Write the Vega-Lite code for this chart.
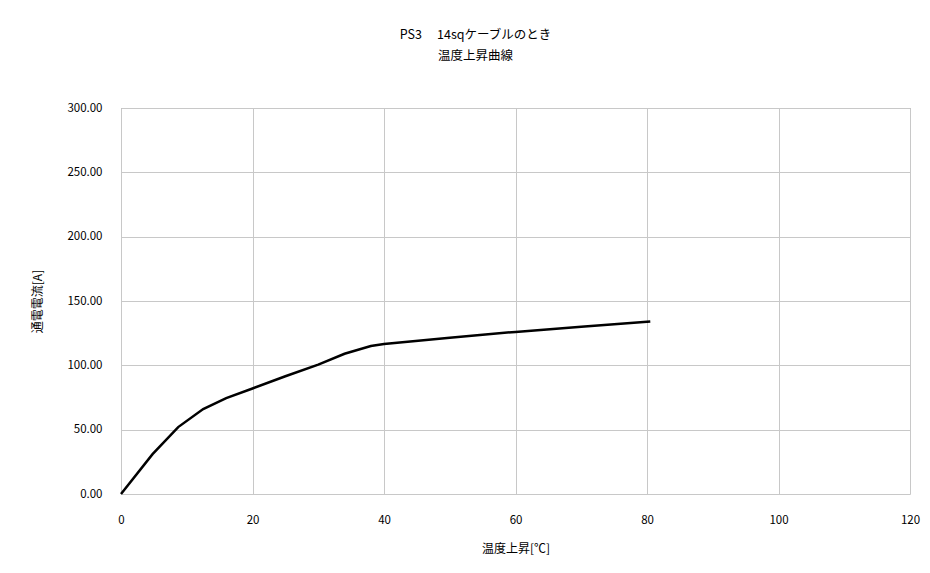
{
  "$schema": "https://vega.github.io/schema/vega-lite/v6.json",
  "width": 789,
  "height": 386,
  "autosize": {"type": "none"},
  "padding": {"left": 121, "top": 108, "right": 20, "bottom": 79},
  "background": "white",
  "config": {
    "font": "Noto Sans CJK JP",
    "view": {"stroke": "#a0a0a0", "strokeDash": [2, 2], "strokeWidth": 1},
    "axis": {
      "domain": false,
      "ticks": false,
      "labelFlush": false,
      "gridColor": "#c8c8c8",
      "gridWidth": 1,
      "labelFont": "Noto Sans CJK JP",
      "labelFontSize": 11.5,
      "labelColor": "#000000",
      "titleFont": "Noto Sans CJK JP",
      "titleFontSize": 12,
      "titleFontWeight": "normal",
      "titleColor": "#000000"
    }
  },
  "title": {
    "text": ["PS3　 14sqケーブルのとき", "温度上昇曲線"],
    "font": "Noto Sans CJK JP",
    "fontSize": 12.5,
    "fontWeight": "normal",
    "color": "#000000",
    "anchor": "middle",
    "dx": -40,
    "offset": 40,
    "lineHeight": 21
  },
  "data": {
    "values": [
      {"t": 0, "a": 0},
      {"t": 4.8, "a": 31},
      {"t": 8.7, "a": 52},
      {"t": 12.5, "a": 66},
      {"t": 16, "a": 74.5},
      {"t": 20, "a": 82},
      {"t": 25, "a": 91.5},
      {"t": 30, "a": 100.5},
      {"t": 34, "a": 109},
      {"t": 38, "a": 115},
      {"t": 40, "a": 116.5},
      {"t": 50, "a": 121.5},
      {"t": 60, "a": 126},
      {"t": 70, "a": 130},
      {"t": 80.5, "a": 134}
    ]
  },
  "mark": {"type": "line", "color": "#000000", "strokeWidth": 2.5},
  "encoding": {
    "x": {
      "field": "t",
      "type": "quantitative",
      "scale": {"domain": [0, 120], "nice": false},
      "axis": {"values": [0, 20, 40, 60, 80, 100, 120], "title": "温度上昇[℃]", "labelPadding": 20, "titlePadding": 18}
    },
    "y": {
      "field": "a",
      "type": "quantitative",
      "scale": {"domain": [0, 300], "nice": false},
      "axis": {"values": [0, 50, 100, 150, 200, 250, 300], "format": ".2f", "title": "通電電流[A]", "labelPadding": 19, "titlePadding": 22}
    }
  }
}
